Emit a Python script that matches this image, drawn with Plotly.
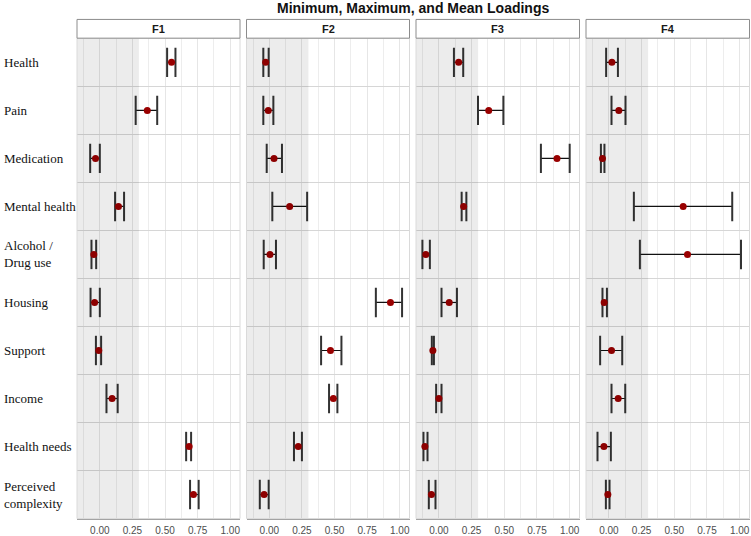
import plotly.graph_objects as go

items = ["Health", "Pain", "Medication", "Mental health", "Alcohol / Drug use",
         "Housing", "Support", "Income", "Health needs", "Perceived complexity"]
item_labels = ["Health", "Pain", "Medication", "Mental health", "Alcohol /<br>Drug use",
               "Housing", "Support", "Income", "Health needs", "Perceived<br>complexity"]
factors = ["F1", "F2", "F3", "F4"]

f1_min = [0.516, 0.275, -0.074, 0.117, -0.064, -0.071, -0.030, 0.051, 0.662, 0.692]
f1_max = [0.580, 0.440, 0.000, 0.186, -0.028, 0.000, 0.010, 0.137, 0.700, 0.758]
f1_mean = [0.550, 0.364, -0.033, 0.143, -0.046, -0.040, -0.008, 0.094, 0.685, 0.718]

f2_min = [-0.046, -0.046, -0.020, 0.023, -0.043, 0.817, 0.397, 0.458, 0.189, -0.073]
f2_max = [-0.005, 0.031, 0.097, 0.290, 0.051, 1.018, 0.553, 0.522, 0.250, -0.005]
f2_mean = [-0.028, -0.008, 0.036, 0.156, 0.005, 0.929, 0.469, 0.491, 0.222, -0.040]

f3_min = [0.115, 0.299, 0.780, 0.174, -0.126, 0.020, -0.054, -0.021, -0.118, -0.077]
f3_max = [0.186, 0.493, 1.000, 0.210, -0.069, 0.138, -0.038, 0.020, -0.087, -0.026]
f3_mean = [0.151, 0.381, 0.903, 0.189, -0.100, 0.079, -0.046, 0.000, -0.107, -0.057]

f4_min = [-0.021, 0.020, -0.061, 0.191, 0.237, -0.049, -0.067, 0.020, -0.087, -0.023]
f4_max = [0.069, 0.127, -0.034, 0.943, 1.010, -0.015, 0.102, 0.125, 0.015, 0.005]
f4_mean = [0.023, 0.076, -0.049, 0.568, 0.601, -0.036, 0.020, 0.071, -0.038, -0.008]

tick_vals = [0.0, 0.25, 0.5, 0.75, 1.0]
tick_text = ["0.00", "0.25", "0.50", "0.75", "1.00"]
threshold = 0.30

mins = [f1_min, f2_min, f3_min, f4_min]
maxs = [f1_max, f2_max, f3_max, f4_max]
means = [f1_mean, f2_mean, f3_mean, f4_mean]

W, H = 751, 536
px_domains = [(77, 240), (246.5, 409.5), (416, 579.5), (586, 749.5)]
y_top, y_bot = 38.5, 520.5
ydom = [1 - y_bot / H, 1 - y_top / H]
xrange = [-0.175, 1.075]

fig = go.Figure()
layout = {}
shapes = []
annotations = []

for i, f in enumerate(factors):
    n = "" if i == 0 else str(i + 1)
    xa, ya = "x" + n, "y" + n
    lx, ly = [], []
    for it, a, b in zip(items, mins[i], maxs[i]):
        lx += [a, b, None]
        ly += [it, it, None]
    fig.add_trace(go.Scatter(x=lx, y=ly, mode="lines", line=dict(color="#111111", width=1.2),
                             xaxis=xa, yaxis=ya, showlegend=False, hoverinfo="skip"))
    fig.add_trace(go.Scatter(x=mins[i] + maxs[i], y=items + items, mode="markers",
                             marker=dict(symbol="line-ns", size=21,
                                         line=dict(color="#333333", width=2)),
                             xaxis=xa, yaxis=ya, showlegend=False, hoverinfo="skip"))
    fig.add_trace(go.Scatter(x=means[i], y=items, mode="markers",
                             marker=dict(symbol="circle", size=7, color="#990000"),
                             xaxis=xa, yaxis=ya, showlegend=False))
    d0, d1 = px_domains[i]
    layout["xaxis" + n] = dict(domain=[d0 / W, d1 / W], range=xrange, anchor=ya,
                               tickvals=tick_vals, ticktext=tick_text,
                               showgrid=True, gridcolor="#E6E6E6", gridwidth=1,
                               minor=dict(tickvals=[-0.125, 0.125, 0.375, 0.625, 0.875],
                                          showgrid=True, gridcolor="#EDEDED", gridwidth=1),
                               zeroline=False, showline=True, linecolor="#A0A0A0", linewidth=1,
                               ticks="", ticklabelstandoff=2,
                               tickfont=dict(family="Liberation Sans, Arial", size=10, color="#4D4D4D"),
                               fixedrange=True)
    layout["yaxis" + n] = dict(domain=ydom, anchor=xa, type="category",
                               categoryorder="array", categoryarray=items,
                               range=[len(items) - 0.5, -0.5],
                               tickson="boundaries", showgrid=True, gridcolor="#D6D6D6",
                               gridwidth=1, showticklabels=False, ticks="",
                               zeroline=False, showline=False, fixedrange=True)
    shapes.append(dict(type="rect", xref=xa, yref="paper", x0=xrange[0], x1=threshold,
                       y0=ydom[0], y1=ydom[1], fillcolor="rgba(0,0,0,0.075)", line=dict(width=0),
                       layer="above"))
    shapes.append(dict(type="rect", xref="paper", yref="paper", x0=d0 / W, x1=d1 / W,
                       y0=ydom[0], y1=ydom[1], line=dict(color="#DADADA", width=1),
                       fillcolor="rgba(0,0,0,0)", layer="above"))
    shapes.append(dict(type="rect", xref="paper", yref="paper", x0=d0 / W, x1=d1 / W,
                       y0=1 - 38.3 / H, y1=1 - 19.5 / H, line=dict(color="#8C8C8C", width=1),
                       fillcolor="white", layer="above"))
    annotations.append(dict(text="<b>%s</b>" % f, xref="paper", yref="paper",
                            x=(d0 + d1) / 2 / W, y=1 - 28.9 / H, showarrow=False,
                            xanchor="center", yanchor="middle",
                            font=dict(family="Liberation Sans, Arial", size=11, color="#1A1A1A")))

for it, lab in zip(items, item_labels):
    annotations.append(dict(text=lab, xref="paper", yref="y", x=2 / W, y=it,
                            xanchor="left", yanchor="middle", align="left", showarrow=False,
                            font=dict(family="Liberation Serif, Times New Roman", size=13,
                                      color="#111111")))

annotations.append(dict(text="<b>Minimum, Maximum, and Mean Loadings</b>", xref="paper",
                        yref="paper", x=413 / W, y=1 - 8.5 / H, showarrow=False,
                        xanchor="center", yanchor="middle",
                        font=dict(family="Liberation Sans, Arial", size=14, color="#111111")))

fig.update_layout(width=W, height=H, margin=dict(l=0, r=0, t=0, b=0),
                  paper_bgcolor="white", plot_bgcolor="white",
                  shapes=shapes, annotations=annotations, showlegend=False, **layout)

fig.write_html("out.html")
